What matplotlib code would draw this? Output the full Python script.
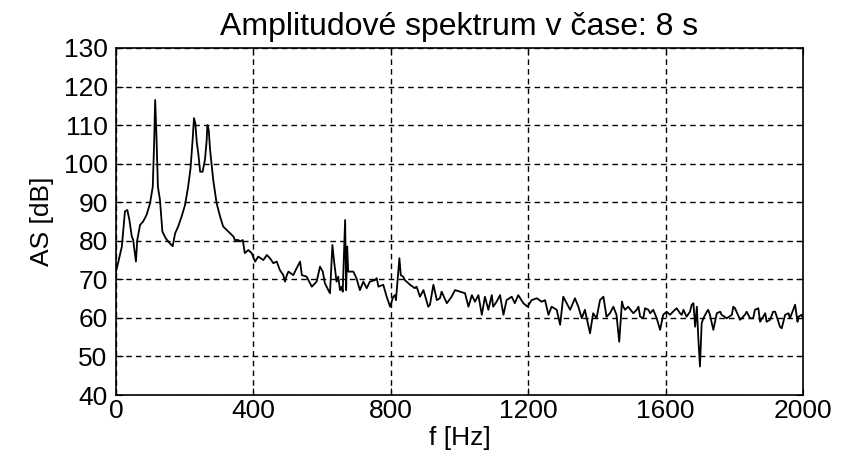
import matplotlib
matplotlib.use("Agg")
import matplotlib.pyplot as plt

freq = [0, 7, 17, 26, 33, 39, 46, 50, 55, 58, 62, 70, 79, 89, 99, 107, 111, 114, 118, 122,
        128, 135, 145, 157, 165, 172, 181, 191, 201, 210, 217, 223, 227, 231, 235, 240, 245, 252, 259, 264,
        266, 270, 274, 283, 293, 303, 312, 327,
        342, 346, 356, 361, 369, 375, 385, 395, 405, 414, 429, 439, 448, 458, 468, 477, 487, 492, 497, 502,
        516, 526, 536, 541, 555, 570, 584, 594, 602, 608, 618, 623, 630, 635, 642, 647, 652, 657, 660, 667,
        670, 673, 676, 691, 700, 710, 720, 730, 739, 754, 759, 764, 778, 788, 798, 807, 812, 815, 825, 829,
        836, 841, 851, 856, 870, 875, 885, 895, 909, 914, 924, 934, 943, 948, 963, 977, 987,
        1001, 1016, 1026, 1036, 1045, 1055, 1065, 1074, 1084, 1094, 1098, 1108, 1118, 1128, 1137, 1152,
        1161, 1171, 1186, 1198, 1210, 1225, 1239, 1249, 1259, 1268, 1283, 1293, 1302, 1312, 1322, 1336,
        1346, 1356, 1365, 1380, 1389, 1399, 1409, 1419, 1428, 1438, 1448, 1457, 1465, 1473, 1477, 1482,
        1491, 1506, 1516, 1521, 1526, 1535, 1540, 1550, 1555, 1564, 1574, 1584, 1593, 1603, 1613, 1627,
        1632, 1642, 1647, 1652, 1661, 1671, 1676, 1681, 1686, 1691, 1695, 1700, 1705, 1710, 1720, 1724,
        1729, 1739, 1749, 1759, 1763, 1778, 1793, 1797, 1802, 1817, 1831, 1836, 1846, 1855, 1860, 1870,
        1875, 1890, 1894, 1904, 1913, 1919, 1933, 1938, 1948, 1958, 1962, 1977, 1984, 1987, 1996, 2000]

amp = [72.0, 74.6, 78.5, 87.6, 88.0, 85.4, 81.1, 80.2, 76.8, 74.6, 80.2, 84.1, 85.0, 86.7, 89.7, 94.0, 105.3, 116.5, 106.6, 94.0,
       90.6, 82.4, 80.6, 79.3, 78.6, 81.9, 83.7, 86.3, 89.3, 94.0, 98.8, 106.1, 111.8, 110.5, 105.7, 102.3, 97.9, 97.9, 101.0, 106.1,
       110.0, 108.7, 103.5, 95.8, 89.7, 86.3, 83.7, 82.4,
       81.1, 80.2, 80.2, 79.8, 80.2, 76.8, 77.6, 76.8, 74.6, 75.9, 75.0, 76.3, 75.5, 74.2, 74.6, 72.4, 71.1, 69.4, 71.0, 72.0,
       71.1, 72.9, 74.6, 71.1, 70.7, 68.1, 69.4, 73.3, 72.0, 69.0, 67.2, 66.4, 78.9, 74.6, 69.4, 70.7, 67.2, 68.1, 66.8, 85.4,
       67.2, 78.5, 72.0, 72.0, 70.3, 67.2, 69.4, 67.7, 69.4, 69.8, 70.3, 68.1, 68.6, 65.5, 62.9, 65.5, 65.9, 64.6, 75.5, 71.1,
       70.7, 69.8, 69.0, 68.6, 67.7, 68.1, 65.5, 67.2, 62.9, 63.4, 68.6, 64.6, 65.1, 66.8, 63.8, 65.5, 67.2,
       66.8, 66.4, 62.9, 65.9, 64.2, 65.9, 60.8, 65.5, 62.1, 65.9, 62.9, 64.2, 65.9, 60.8, 64.6, 65.5,
       63.8, 65.9, 63.8, 62.9, 64.6, 65.1, 64.2, 64.6, 60.8, 62.9, 62.1, 58.2, 65.5, 63.8, 62.1, 65.1,
       62.9, 59.9, 62.1, 56.0, 61.2, 59.9, 64.6, 65.5, 60.3, 61.2, 62.9, 60.8, 53.8, 64.2, 62.9, 62.1,
       62.9, 61.2, 62.1, 62.9, 60.3, 59.9, 62.5, 62.1, 61.2, 62.1, 59.9, 56.9, 60.8, 61.6, 60.8, 62.1,
       62.5, 61.2, 60.8, 62.1, 60.3, 61.6, 63.4, 63.8, 57.7, 62.9, 55.1, 47.4, 58.6, 59.9, 61.6, 62.1,
       60.8, 56.9, 61.2, 61.6, 60.8, 59.9, 60.8, 62.9, 62.5, 59.5, 60.8, 61.6, 59.9, 59.9, 62.1, 62.5,
       59.0, 61.2, 59.0, 59.5, 61.6, 61.6, 57.7, 57.3, 60.8, 61.2, 59.9, 63.4, 59.0, 60.3, 60.8, 60.0]

x_ticks = [0, 400, 800, 1200, 1600, 2000]
y_ticks = [40, 50, 60, 70, 80, 90, 100, 110, 120, 130]

plt.rcParams['font.family'] = ['Liberation Sans', 'DejaVu Sans']

fig = plt.figure(figsize=(8.47, 4.61), dpi=100)
ax = fig.add_axes([116/847, 1 - 395/461, (803 - 116)/847, (395 - 48)/461])
ax.plot(freq, amp, color='black', linewidth=1.3)
ax.set_xlim(0, 2000)
ax.set_ylim(40, 130)
ax.set_xticks(x_ticks)
ax.set_yticks(y_ticks)
ax.grid(True, color='black', linestyle=(0, (4, 3)), linewidth=1.0)
ax.tick_params(direction='in', length=5, top=True, right=True, labelsize=19, pad=6)
ax.tick_params(axis='x', pad=3)
for s in ax.spines.values():
    s.set_linewidth(1.2)
ax.set_title('Amplitudové spektrum v čase: 8 s', fontsize=23, pad=9)
ax.set_xlabel('f [Hz]', fontsize=19, labelpad=2)
ax.set_ylabel('AS [dB]', fontsize=19, labelpad=7)
fig.savefig('out.png', dpi=100)
